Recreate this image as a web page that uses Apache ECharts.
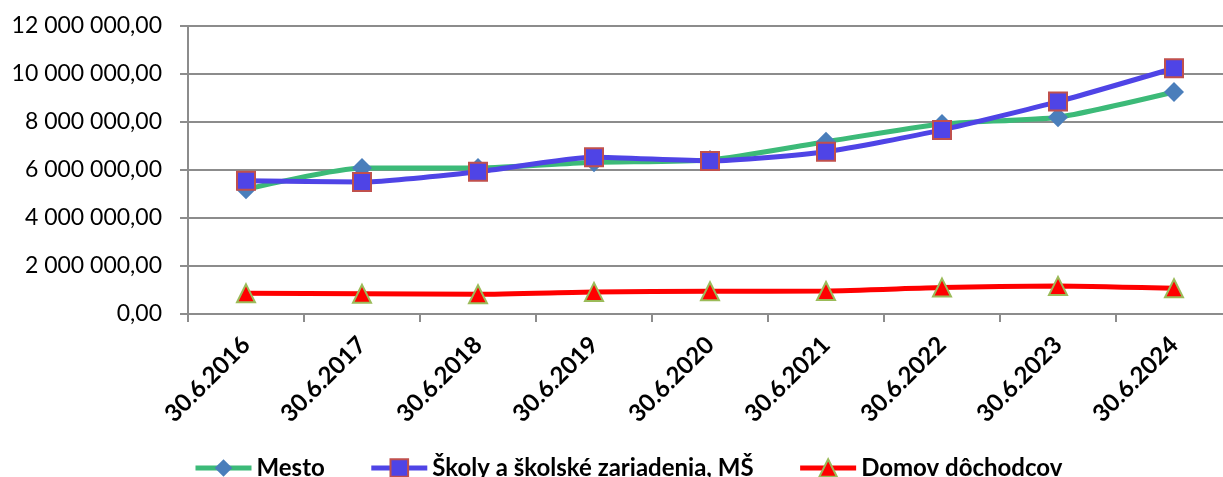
<!DOCTYPE html>
<html>
<head>
<meta charset="utf-8">
<script src="https://cdn.jsdelivr.net/npm/echarts@6/dist/echarts.min.js"></script>
<style>
  html, body { margin: 0; padding: 0; background: #fff; overflow: hidden; }
  /* plocha grafu v origináli presahuje pravý okraj obrázka */
  #graf { width: 1232px; height: 477px; }
</style>
</head>
<body>
<div id="graf"></div>
<script>
// Dáta odčítané z grafu
const obdobia = ['30.6.2016', '30.6.2017', '30.6.2018', '30.6.2019', '30.6.2020',
                 '30.6.2021', '30.6.2022', '30.6.2023', '30.6.2024'];
const mesto = [5200000, 6080000, 6080000, 6320000, 6420000, 7180000, 7920000, 8200000, 9250000];
const skoly = [5550000, 5500000, 5930000, 6530000, 6380000, 6760000, 7670000, 8850000, 10240000];
const domov = [860000, 840000, 820000, 920000, 950000, 960000, 1100000, 1170000, 1070000];
const osYMax = 12000000;
const osYKrok = 2000000;

function formatCislo(v) {
    const cele = Math.round(v).toString().replace(/\B(?=(\d{3})+(?!\d))/g, ' ');
    return cele + ',00';
}

const graf = echarts.init(document.getElementById('graf'));
const pismo = 'Lato, "Open Sans", sans-serif';

const option = {
    animation: false,
    grid: { left: 188, right: 0, top: 26, bottom: 163 },
    xAxis: {
        type: 'category',
        data: obdobia,
        boundaryGap: true,
        axisLine: { lineStyle: { color: '#8c8c8c', width: 2 } },
        axisTick: { show: true, length: 8, lineStyle: { color: '#8c8c8c', width: 2 } },
        axisLabel: {
            rotate: 45,
            margin: 27,
            fontFamily: pismo,
            fontWeight: 'bold',
            fontSize: 24,
            color: '#000'
        }
    },
    yAxis: {
        type: 'value',
        min: 0,
        max: osYMax,
        interval: osYKrok,
        axisLine: { show: true, lineStyle: { color: '#8c8c8c', width: 2 } },
        axisTick: { show: true, length: 8, lineStyle: { color: '#8c8c8c', width: 2 } },
        splitLine: { lineStyle: { color: '#8c8c8c', width: 2 } },
        axisLabel: {
            margin: 26,
            fontFamily: pismo,
            fontSize: 23,
            color: '#000',
            formatter: formatCislo
        }
    },
    legend: {
        left: 188,
        top: 451,
        itemWidth: 56,
        itemHeight: 22,
        itemGap: 44,
        lineStyle: { width: 5 },
        textStyle: { fontFamily: pismo, fontWeight: 'bold', fontSize: 24, color: '#000' },
        data: ['Mesto', 'Školy a školské zariadenia, MŠ', 'Domov dôchodcov']
    },
    series: [
        {
            name: 'Mesto',
            type: 'line',
            data: mesto,
            smooth: 0.2,
            lineStyle: { color: '#3cba78', width: 5 },
            itemStyle: { color: '#4a7ebb' },
            symbol: 'diamond',
            symbolSize: 20,
            z: 2
        },
        {
            name: 'Školy a školské zariadenia, MŠ',
            type: 'line',
            data: skoly,
            smooth: 0.2,
            lineStyle: { color: '#4f44e6', width: 5 },
            itemStyle: { color: '#4f44e6', borderColor: '#c0504d', borderWidth: 2 },
            symbol: 'rect',
            symbolSize: 18,
            z: 3
        },
        {
            name: 'Domov dôchodcov',
            type: 'line',
            data: domov,
            smooth: 0.2,
            lineStyle: { color: '#ff0000', width: 5 },
            itemStyle: { color: '#ff0000', borderColor: '#9bbb59', borderWidth: 2 },
            symbol: 'triangle',
            symbolSize: 18,
            z: 4
        }
    ]
};
graf.setOption(option);
</script>
</body>
</html>
